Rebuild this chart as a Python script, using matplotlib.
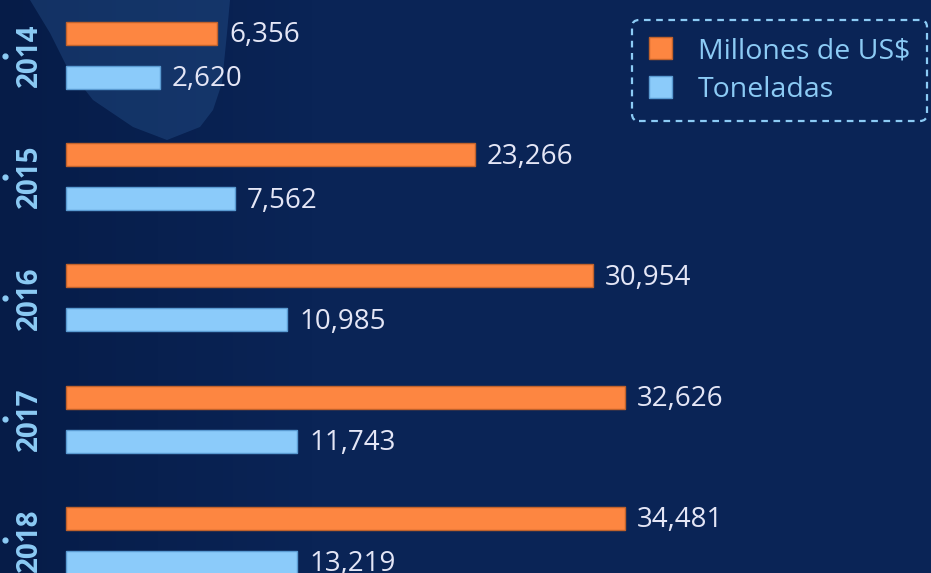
import matplotlib
matplotlib.use("Agg")
import matplotlib.pyplot as plt
import numpy as np
from matplotlib.patches import Patch, Polygon
from matplotlib.transforms import blended_transform_factory

# ---- data ----
years = ["2014", "2015", "2016", "2017", "2018"]
usd_values = [6356, 23266, 30954, 32626, 34481]      # Millones de US$ (labels)
ton_values = [2620, 7562, 10985, 11743, 13219]       # Toneladas (labels)
# bar lengths as drawn in the infographic (not proportional to labels)
usd_drawn = [8870, 24030, 30954, 32840, 32840]
ton_drawn = [5520, 9930, 12980, 13570, 13570]
series_names = ["Millones de US$", "Toneladas"]

# ---- style ----
BG = "#0a2456"
ORANGE = "#fd8641"
ORANGE_EDGE = "#c0622c"
BLUE = "#8bcbfa"
BLUE_EDGE = "#5a9bd2"
VALUE_COLOR = "#e4e6f6"
LIGHT = "#8ccbf5"
FONT = "Open Sans"

W, H = 931, 573
fig = plt.figure(figsize=(W / 100, H / 100), dpi=100, facecolor=BG)
ax = fig.add_axes([0, 0, 1, 1])
ax.set_facecolor(BG)

# axis scales (units per pixel)
upp = 58.74
x0_px = 66
ax.set_xlim(-x0_px * upp, (W - x0_px) * upp)
group_px = 121.2
top_units = -55.5 / group_px
ax.set_ylim(top_units + H / group_px, top_units)

# subtle darker left strip
grad = np.linspace(0, 1, 200)[None, :]
ax.imshow(np.clip(grad * 3, 0, 1), extent=(ax.get_xlim()[0], ax.get_xlim()[1],
          ax.get_ylim()[0], ax.get_ylim()[1]), aspect="auto",
          cmap=matplotlib.colors.LinearSegmentedColormap.from_list("bg", ["#061c48", BG]),
          zorder=0)

# background silhouette (decorative)
fig_px = lambda pts: [(x / W, 1 - y / H) for x, y in pts]
sil = Polygon(fig_px([(30, 0), (230, 0), (227, 33), (222, 83), (213, 110),
                      (200, 127), (167, 140), (133, 127), (93, 100),
                      (67, 67), (50, 33)]),
              closed=True, transform=fig.transFigure, facecolor="#2c5c98",
              alpha=0.35, edgecolor="none", zorder=1)
ax.add_patch(sil)

idx = np.arange(len(years))
off = 22 / group_px
bh = 23 / group_px
ax.barh(idx - off, usd_drawn, height=bh, color=ORANGE, edgecolor=ORANGE_EDGE,
        linewidth=1, zorder=3, label=series_names[0])
ax.barh(idx + off, ton_drawn, height=bh, color=BLUE, edgecolor=BLUE_EDGE,
        linewidth=1, zorder=3, label=series_names[1])

gap = 12 * upp
dy = 2 / group_px
for i in idx:
    ax.text(usd_drawn[i] + gap, i - off + dy, f"{usd_values[i]:,}", va="center",
            ha="left", color=VALUE_COLOR, fontsize=20, family=FONT,
            fontweight="medium", zorder=4)
    ax.text(ton_drawn[i] + gap, i + off + dy, f"{ton_values[i]:,}", va="center",
            ha="left", color=VALUE_COLOR, fontsize=20, family=FONT,
            fontweight="medium", zorder=4)

tr = blended_transform_factory(fig.transFigure, ax.transData)
for i, y in enumerate(years):
    ax.text(29 / W, i, y, rotation=90, va="center", ha="center", color=LIGHT,
            fontsize=20, fontweight="bold", family=FONT, transform=tr, zorder=4)
ax.scatter([5 / W] * len(years), idx, s=12, color=LIGHT, transform=tr, zorder=4)

ax.axis("off")

handles = [Patch(facecolor=ORANGE, edgecolor=ORANGE_EDGE),
           Patch(facecolor=BLUE, edgecolor=BLUE_EDGE)]
leg = ax.legend(handles, series_names, loc="upper right",
                bbox_to_anchor=(927 / W, 1 - 20 / H), bbox_transform=fig.transFigure,
                prop={"family": FONT, "size": 20.5, "weight": "medium"},
                labelcolor=LIGHT,
                handlelength=0.8, handleheight=0.8, handletextpad=0.9,
                labelspacing=0.38, borderpad=0.6, borderaxespad=0,
                fancybox=True, framealpha=1)
fr = leg.get_frame()
fr.set_facecolor("none")
fr.set_edgecolor(LIGHT)
fr.set_linewidth(1.6)
fr.set_linestyle((0, (3, 2.5)))
fr.set_boxstyle("round,pad=0.0,rounding_size=0.25")

fig.savefig("out.png", dpi=100, facecolor=BG)
